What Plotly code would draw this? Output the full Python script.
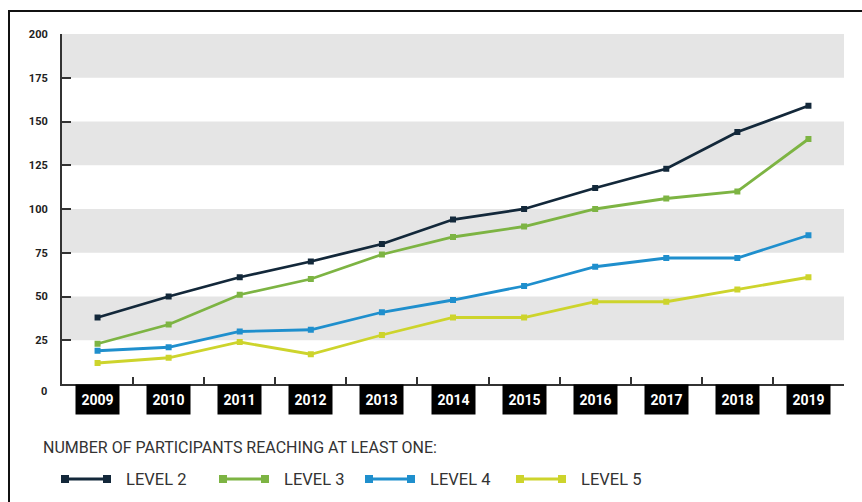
import plotly.graph_objects as go

years = ["2009", "2010", "2011", "2012", "2013", "2014", "2015", "2016", "2017", "2018", "2019"]
level_2 = [38, 50, 61, 70, 80, 94, 100, 112, 123, 144, 159]
level_3 = [23, 34, 51, 60, 74, 84, 90, 100, 106, 110, 140]
level_4 = [19, 21, 30, 31, 41, 48, 56, 67, 72, 72, 85]
level_5 = [12, 15, 24, 17, 28, 38, 38, 47, 47, 54, 61]
y_ticks = [25, 50, 75, 100, 125, 150, 175, 200]
series_names = ["LEVEL 2", "LEVEL 3", "LEVEL 4", "LEVEL 5"]
series_colors = ["#13283a", "#7db443", "#1f8fcd", "#cdd42c"]
legend_title = "NUMBER OF PARTICIPANTS REACHING AT LEAST ONE:"

W, H = 862, 502
L, R, T, B = 62, 18, 34, 118
PW, PH = W - L - R, H - T - B
FONT = "Roboto, sans-serif"
AXIS = "#333333"


def px(x):
    return (x - L) / PW


def py(y):
    return (H - B - y) / PH


x_idx = list(range(len(years)))
fig = go.Figure()
for name, vals, col in zip(series_names, [level_2, level_3, level_4, level_5], series_colors):
    fig.add_trace(go.Scatter(
        x=x_idx, y=vals, name=name, mode="lines+markers",
        line=dict(color=col, width=2.8),
        marker=dict(symbol="square", size=6, color=col),
        showlegend=False, cliponaxis=False,
    ))

shapes = []
# alternating grey bands
for lo in (25, 75, 125, 175):
    shapes.append(dict(type="rect", xref="paper", yref="y", x0=0, x1=1, y0=lo, y1=lo + 25,
                       fillcolor="#e5e5e5", line=dict(width=0), layer="below"))
# frame lines (top and left)
shapes.append(dict(type="line", xref="paper", yref="paper", x0=px(8), x1=px(W + 5), y0=py(11), y1=py(11),
                   line=dict(color="#111111", width=2)))
shapes.append(dict(type="line", xref="paper", yref="paper", x0=px(9), x1=px(9), y0=py(10), y1=py(H + 5),
                   line=dict(color="#111111", width=2)))

annotations = []
# year labels in black boxes
for i, yr in enumerate(years):
    annotations.append(dict(x=i, y=0, xref="x", yref="paper", yanchor="top", xanchor="center",
                            text="<b>%s</b>" % yr, showarrow=False, width=43, height=29,
                            bgcolor="#000000", borderpad=0,
                            font=dict(family=FONT, size=14, color="#ffffff")))
# zero label
annotations.append(dict(x=px(49), y=py(391), xref="paper", yref="paper", xanchor="right", yanchor="middle",
                        text="<b>0</b>", showarrow=False, font=dict(family=FONT, size=11, color="#222222")))
# legend title
annotations.append(dict(x=px(41), y=py(447), xref="paper", yref="paper", xanchor="left", yanchor="middle",
                        text=legend_title, showarrow=False, font=dict(family=FONT, size=16, color="#333333")))

# legend entries
legend_x = [62, 220, 366, 517]
ly = py(479)
for lx, name, col in zip(legend_x, series_names, series_colors):
    shapes.append(dict(type="line", xref="paper", yref="paper", x0=px(lx), x1=px(lx + 48), y0=ly, y1=ly,
                       line=dict(color=col, width=2.8)))
    for mx in (lx + 3, lx + 45):
        shapes.append(dict(type="rect", xref="paper", yref="paper", xsizemode="pixel", ysizemode="pixel",
                           xanchor=px(mx), yanchor=ly, x0=-4, x1=4, y0=-4, y1=4,
                           fillcolor=col, line=dict(width=0)))
    annotations.append(dict(x=px(lx + 62), y=ly, xref="paper", yref="paper", xanchor="left", yanchor="middle",
                            text=name, showarrow=False, font=dict(family=FONT, size=16.5, color="#333333")))

fig.update_layout(
    width=W, height=H, margin=dict(l=L, r=R, t=T, b=B, pad=0),
    paper_bgcolor="#ffffff", plot_bgcolor="#ffffff",
    font=dict(family=FONT, color="#222222"),
    shapes=shapes, annotations=annotations,
    xaxis=dict(range=[-0.5, 10.5], tickvals=[i + 0.5 for i in x_idx], showticklabels=False,
               ticks="inside", ticklen=7, tickwidth=1.5, tickcolor=AXIS,
               showline=True, linecolor=AXIS, linewidth=2, showgrid=False, zeroline=False, fixedrange=True),
    yaxis=dict(range=[0, 200], tickvals=y_ticks, ticktext=["<b>%d</b>" % v for v in y_ticks],
               ticks="inside", ticklen=9, tickwidth=2, tickcolor=AXIS, ticklabelstandoff=10,
               tickfont=dict(family=FONT, size=11, color="#222222"),
               showline=True, linecolor=AXIS, linewidth=2, showgrid=False, zeroline=False, fixedrange=True),
)

fig.write_html("out.html")
